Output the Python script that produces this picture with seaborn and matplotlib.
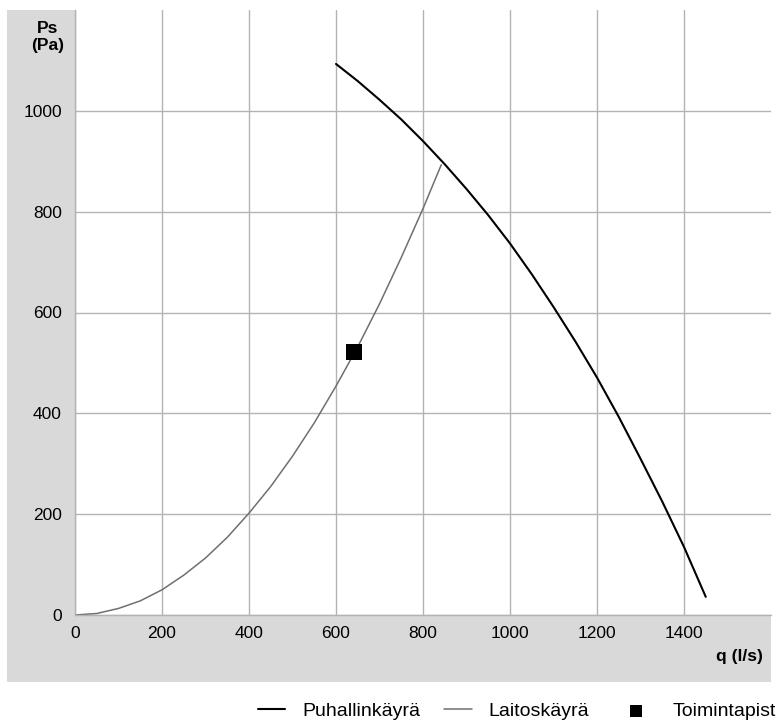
import matplotlib
matplotlib.use("Agg")
import matplotlib.pyplot as plt
import seaborn as sns
import pandas as pd
from matplotlib.patches import Rectangle

# fan curve (Puhallinkäyrä)
fan_q = [600, 650, 700, 750, 800, 850, 900, 950, 1000, 1050, 1100, 1150, 1200, 1250, 1300, 1350, 1400, 1450]
fan_ps = [1093, 1059, 1022, 983, 940, 894, 845, 793, 737, 676, 611, 543, 471, 393, 310, 225, 135, 36]

# system curve (Laitoskäyrä)
sys_q = [0, 50, 100, 150, 200, 250, 300, 350, 400, 450, 500, 550, 600, 650, 700, 750, 800, 842]
sys_ps = [0, 3, 13, 28, 50, 79, 113, 154, 202, 255, 315, 381, 454, 532, 617, 709, 806, 893]

# operating point (Toimintapiste)
op_q = [641]
op_ps = [521]

labels = ["Puhallinkäyrä", "Laitoskäyrä", "Toimintapiste"]

sns.set_style("white")
plt.rcParams['font.family'] = ['Liberation Sans', 'DejaVu Sans']
plt.rcParams['font.size'] = 12.5
plt.rcParams['text.color'] = 'black'

fan = pd.DataFrame({'q': fan_q, 'ps': fan_ps})
system = pd.DataFrame({'q': sys_q, 'ps': sys_ps})
op = pd.DataFrame({'q': op_q, 'ps': op_ps})

fig = plt.figure(figsize=(7.76, 7.24), dpi=100)
fig.patch.set_facecolor('white')
# grey panel behind the axes
fig.patches.append(Rectangle((7/776, 1-682/724), (771-7)/776, (682-10)/724,
                             transform=fig.transFigure, facecolor='#d9d9d9',
                             edgecolor='none', zorder=-5))

ax = fig.add_axes([75/776, 1-615/724, (771-75)/776, (615-10)/724])
ax.set_facecolor('white')

sns.lineplot(data=fan, x='q', y='ps', sort=False, color='black', lw=1.5,
             label=labels[0], ax=ax)
sns.lineplot(data=system, x='q', y='ps', sort=False, color='#6f6f6f', lw=1.1,
             label=labels[1], ax=ax)
sns.scatterplot(data=op, x='q', y='ps', marker='s', color='black', s=135,
                linewidth=0, label=labels[2], ax=ax, zorder=5)

ax.set_xlim(0, 1600)
ax.set_ylim(0, 1200)
ax.set_xticks(range(0, 1600, 200))
ax.set_yticks(range(0, 1200, 200))
ax.grid(True, color='#b3b3b3', lw=1)
ax.set_axisbelow(True)
for side in ['top', 'right']:
    ax.spines[side].set_visible(False)
for side in ['left', 'bottom']:
    ax.spines[side].set_color('#b3b3b3')
    ax.spines[side].set_linewidth(1)
ax.tick_params(axis='both', length=3, color='#b3b3b3', labelsize=12.5, labelcolor='black')
ax.tick_params(axis='y', pad=6.5)
ax.tick_params(axis='x', pad=5)
ax.set_xlabel('')
ax.set_ylabel('')

fig.text(48/776, 1-37/724, 'Ps\n(Pa)', ha='center', va='center', fontweight='bold',
         fontsize=12.5, multialignment='center', linespacing=1.2, color='black')
fig.text(763/776, 1-657/724, 'q (l/s)', ha='right', va='center', fontweight='bold',
         fontsize=12.5, color='black')

handles, labs = ax.get_legend_handles_labels()
ax.get_legend().remove()
leg_y = 1 - 711/724
leg1 = fig.legend(handles[:2], labs[:2], loc='center left', bbox_to_anchor=(258/776, leg_y),
                  ncol=2, frameon=False, handlelength=1.4, handletextpad=0.88,
                  columnspacing=1.24, fontsize=14, borderaxespad=0, borderpad=0,
                  labelcolor='black')
fig.legend(handles[2:], labs[2:], loc='center left', bbox_to_anchor=(622/776, leg_y),
           frameon=False, handlelength=1.4, handletextpad=1.2, markerscale=0.8,
           fontsize=14, borderaxespad=0, borderpad=0, labelcolor='black')

fig.savefig('out.png', dpi=100)
